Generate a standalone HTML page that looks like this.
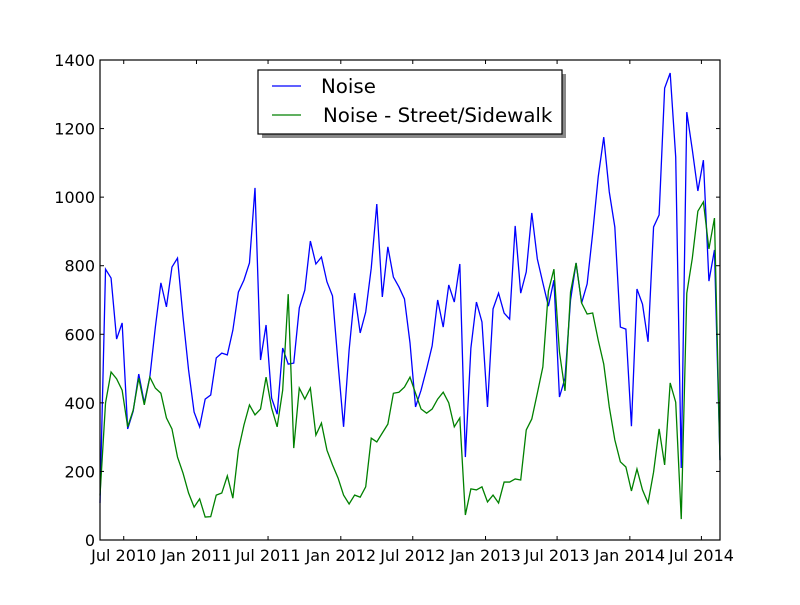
<!DOCTYPE html>
<html><head><meta charset="utf-8"><style>
html,body{margin:0;padding:0;background:#fff;}
svg text{font-family:"DejaVu Sans","Liberation Sans",sans-serif;}
</style></head><body>
<svg id="chart" width="800" height="600" xmlns="http://www.w3.org/2000/svg">
<rect x="0" y="0" width="800" height="600" fill="#fff"/>
<g id="plot"></g>
</svg>
<script>
const blueValues=[108,790,764,586,633,324,376,484,400,475,621,750,680,796,822,650,496,373,330,411,423,531,545,540,
612,723,758,808,1027,525,627,414,367,560,513,516,677,729,872,805,825,753,712,516,330,554,720,
604,665,793,980,709,855,767,738,703,575,388,437,499,566,700,621,744,694,805,242,560,694,
636,388,674,720,662,644,916,720,782,954,820,750,682,758,417,472,700,808,691,747,895,1059,
1175,1015,913,621,615,332,732,688,578,913,948,1318,1362,1117,210,1248,1138,1018,1108,755,846,233];
const greenValues=[130,400,490,470,437,330,379,472,394,475,443,428,356,324,242,195,137,96,120,67,68,131,137,187,
122,262,335,394,365,382,475,385,330,437,717,268,443,411,443,306,341,262,219,181,131,105,131,
125,155,297,286,312,338,428,431,446,475,428,382,370,382,411,431,400,330,356,73,149,146,
155,111,131,108,169,169,178,175,321,353,428,505,726,790,548,435,723,808,691,659,662,583,
513,388,292,228,213,143,207,146,108,198,324,219,458,402,61,720,822,959,986,849,939,233];
const startDay=-60; const stepDays=14; // days relative to 1 Jul 2010
const xTickLabels=["Jul 2010","Jan 2011","Jul 2011","Jan 2012","Jul 2012","Jan 2013","Jul 2013","Jan 2014","Jul 2014"];
const xTickDays=[0,184,365,549,731,915,1096,1280,1461];
const yTicks=[0,200,400,600,800,1000,1200,1400];
const seriesNames=["Noise","Noise - Street/Sidewalk"];

const NS="http://www.w3.org/2000/svg";
const L=100,R=720,T=60,B=540;
const n=blueValues.length;
const d0=startDay,d1=startDay+stepDays*(n-1);
const xS=d=>L+(d-d0)/(d1-d0)*(R-L);
const yS=v=>B-v/1400*(B-T);
const g=document.getElementById('plot');
function mk(tag,attrs,parent){const e=document.createElementNS(NS,tag);for(const k in attrs)e.setAttribute(k,attrs[k]);(parent||g).appendChild(e);return e;}

function line(vals,color,name){
  const pts=vals.map((v,i)=>xS(d0+i*stepDays).toFixed(2)+','+yS(v).toFixed(2)).join(' ');
  const p=mk('polyline',{points:pts,fill:'none',stroke:color,'stroke-width':1.3,'stroke-linejoin':'miter'});
  
  
}
line(blueValues,'#0000ff','series-noise');
line(greenValues,'#008000','series-noise-street-sidewalk');

const ax=mk('rect',{x:L,y:T,width:R-L,height:B-T,fill:'none',stroke:'#000','stroke-width':1.2});



yTicks.forEach(v=>{
  const y=yS(v);
  mk('line',{x1:L,x2:L+4,y1:y,y2:y,stroke:'#000'});
  mk('line',{x1:R-4,x2:R,y1:y,y2:y,stroke:'#000'});
  const t=mk('text',{x:L-5,y:y+6,'text-anchor':'end','font-size':16,fill:'#000'});
  t.textContent=v;
  
  
});
xTickDays.forEach((d,i)=>{
  const x=xS(d);
  mk('line',{x1:x,x2:x,y1:B-4,y2:B,stroke:'#000'});
  mk('line',{x1:x,x2:x,y1:T,y2:T+4,stroke:'#000'});
  const t=mk('text',{x:x,y:B+21,'text-anchor':'middle','font-size':16,fill:'#000'});
  t.textContent=xTickLabels[i];
  
  
});

const lg=mk('g',{});


mk('rect',{x:262,y:74,width:304,height:64,fill:'#888'},lg);
mk('rect',{x:258,y:70,width:304,height:64,fill:'#fff',stroke:'#000','stroke-width':1.2},lg);
const colors=['#0000ff','#008000'];
[0,1].forEach(i=>{
  const y=86+i*29;
  mk('line',{x1:272,x2:301,y1:y,y2:y,stroke:colors[i],'stroke-width':1.2},lg);
  const t=mk('text',{x:321+i*2,y:y+7,'font-size':19.8,fill:'#000'},lg);
  t.textContent=seriesNames[i];
  
  
});
</script>
</body></html>
